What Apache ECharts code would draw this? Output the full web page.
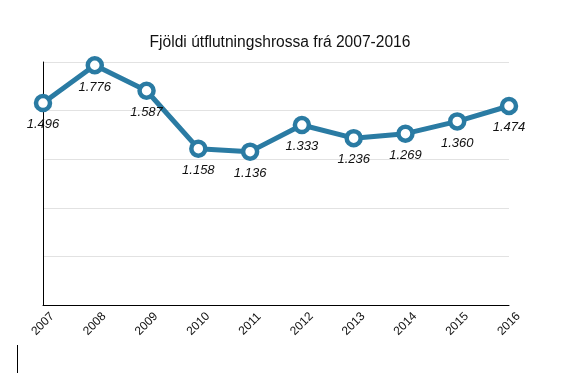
<!DOCTYPE html>
<html>
<head>
<meta charset="utf-8">
<script src="https://cdn.jsdelivr.net/npm/echarts@6/dist/echarts.min.js"></script>
<style>html,body{margin:0;padding:0;background:#fff;}#c{width:586px;height:375px;}</style>
</head>
<body>
<div id="c"></div>
<script>
var years = ['2007','2008','2009','2010','2011','2012','2013','2014','2015','2016'];
var horses = [1496, 1776, 1587, 1158, 1136, 1333, 1236, 1269, 1360, 1474];
var titleText = 'Fjöldi útflutningshrossa frá 2007-2016';

var chart = echarts.init(document.getElementById('c'));
chart.setOption({
  animation: false,
  title: {
    text: titleText, left: 275, textAlign: 'center', top: 30,
    textStyle: {fontFamily: 'Liberation Sans, Arial, sans-serif', fontSize: 15.6, fontWeight: 'normal', color: '#111'}
  },
  grid: {left: 43, right: 77, top: 62, bottom: 70, containLabel: false},
  xAxis: {
    type: 'category', data: years, boundaryGap: false,
    axisLine: {lineStyle: {color: '#000', width: 1}},
    axisTick: {show: false},
    axisLabel: {rotate: 45, align: 'center', verticalAlign: 'middle', fontSize: 12, color: '#111',
      fontFamily: 'Liberation Sans, Arial, sans-serif', margin: 19}
  },
  yAxis: {
    type: 'value', min: 0, max: 1800, interval: 360,
    axisLine: {show: true, lineStyle: {color: '#000', width: 1}},
    axisTick: {show: false},
    axisLabel: {show: false},
    splitLine: {lineStyle: {color: '#e2e2e2'}}
  },
  series: [{
    type: 'line', data: horses,
    symbol: 'circle', symbolSize: 14,
    lineStyle: {color: '#2a7ba3', width: 5},
    itemStyle: {color: '#fff', borderColor: '#2a7ba3', borderWidth: 4.5},
    label: {
      show: true, position: 'bottom', distance: 6,
      fontSize: 13, fontStyle: 'italic', color: '#111',
      fontFamily: 'Liberation Sans, Arial, sans-serif',
      formatter: function (p) { return String(p.value).replace(/\B(?=(\d{3})+(?!\d))/g, '.'); }
    }
  }],
  graphic: [{type: 'line', shape: {x1: 17.5, y1: 345, x2: 17.5, y2: 373}, style: {stroke: '#000', lineWidth: 1}}]
});
</script>
</body>
</html>
